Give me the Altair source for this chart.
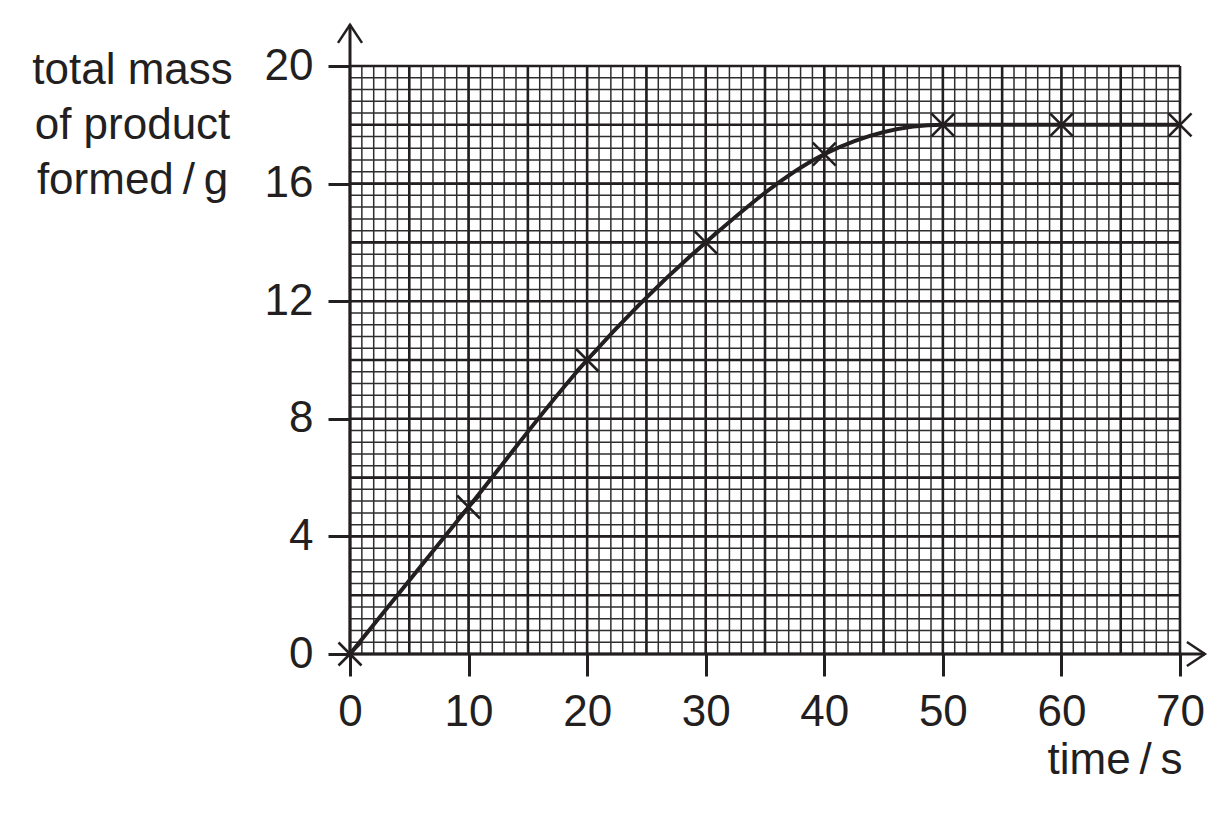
import altair as alt
import pandas as pd

# ---- data ----
time_s = [0, 10, 20, 30, 40, 50, 60, 70]
mass_g = [0, 5, 10, 14, 17, 18, 18, 18]

x_ticks = [0, 10, 20, 30, 40, 50, 60, 70]
y_ticks = [0, 4, 8, 12, 16, 20]

x_minor = [i * 1 for i in range(0, 71)]          # graph-paper lines every 1 s
y_minor = [round(i * 0.4, 1) for i in range(0, 51)]  # every 0.4 g
x_major = [i * 5 for i in range(0, 15)]           # every 5 s
y_major = [i * 2 for i in range(0, 11)]           # every 2 g

x_arrow_end = 72.1
y_arrow_end = 21.4

INK = "#231f20"
FONT = "Liberation Sans"
FS = 44

df = pd.DataFrame({"t": time_s, "m": mass_g})

xs = alt.Scale(domain=[0, 70], nice=False, zero=False)
ys = alt.Scale(domain=[0, 20], nice=False, zero=False)

x_axis = alt.Axis(
    values=x_ticks, grid=False, domain=False, tickSize=22, tickWidth=3,
    tickColor=INK, labelFont=FONT, labelFontSize=FS, labelColor=INK,
    labelPadding=14, labelFlush=False, labelOverlap=False,
    title="time\u2009/\u2009s", titleFont=FONT, titleFontSize=FS,
    titleFontWeight="normal", titleColor=INK, titleAlign="right",
    titleBaseline="alphabetic", titleX=832, titleY=119, titleAngle=0,
)
y_axis = alt.Axis(
    values=y_ticks, grid=False, domain=False, tickSize=22, tickWidth=3,
    tickColor=INK, labelFont=FONT, labelFontSize=FS, labelColor=INK,
    labelPadding=15, labelFlush=False, labelOverlap=False,
    title=["total mass", "of product", "formed\u2009/\u2009g"],
    titleFont=FONT, titleFontSize=FS, titleFontWeight="normal",
    titleColor=INK, titleAngle=0, titleAlign="center",
    titleBaseline="alphabetic", titleX=-218, titleY=17, titleLineHeight=55,
)

X = alt.X("t:Q", scale=xs, axis=x_axis)
Y = alt.Y("m:Q", scale=ys, axis=y_axis)

minor_v = alt.Chart(pd.DataFrame({"t": x_minor})).mark_rule(
    color="#2e2e2e", strokeWidth=1.5).encode(x=X)
minor_h = alt.Chart(pd.DataFrame({"m": y_minor})).mark_rule(
    color="#2e2e2e", strokeWidth=1.5).encode(y=Y)
major_v = alt.Chart(pd.DataFrame({"t": x_major})).mark_rule(
    color=INK, strokeWidth=2.6).encode(x=X)
major_h = alt.Chart(pd.DataFrame({"m": y_major})).mark_rule(
    color=INK, strokeWidth=2.6).encode(y=Y)

# axis lines extending beyond the grid to the arrow heads
y_line = alt.Chart(pd.DataFrame({"t": [0], "m": [0], "m2": [y_arrow_end]})).mark_rule(
    color=INK, strokeWidth=3).encode(x=X, y=Y, y2="m2:Q")
x_line = alt.Chart(pd.DataFrame({"t": [0], "m": [0], "t2": [x_arrow_end]})).mark_rule(
    color=INK, strokeWidth=3).encode(x=X, y=Y, x2="t2:Q")

y_head = alt.Chart(pd.DataFrame({"t": [0], "m": [y_arrow_end]})).mark_point(
    shape="M-0.667,1L0,0L0.667,1", size=1296, filled=False, color=INK,
    strokeWidth=2.5, opacity=1).encode(x=X, y=Y)
x_head = alt.Chart(pd.DataFrame({"t": [x_arrow_end], "m": [0]})).mark_point(
    shape="M-1,-0.667L0,0L-1,0.667", size=1296, filled=False, color=INK,
    strokeWidth=2.5, opacity=1).encode(x=X, y=Y)

curve = alt.Chart(df).mark_line(
    color=INK, strokeWidth=4, interpolate="monotone").encode(x=X, y=Y)
crosses = alt.Chart(df).mark_point(
    shape="M-1,-1L1,1M-1,1L1,-1", size=529, filled=False, color=INK,
    strokeWidth=2.6, opacity=1).encode(x=X, y=Y)

chart = alt.layer(
    minor_v, minor_h, major_v, major_h, y_line, x_line, curve, crosses,
    y_head, x_head,
).properties(
    width=830, height=588,
    padding={"left": 342, "top": 58, "right": 40, "bottom": 150},
    autosize="none",
    background="white",
).configure_view(stroke=None)

chart.save("out.html", embed_options={"renderer": "svg", "actions": False})
